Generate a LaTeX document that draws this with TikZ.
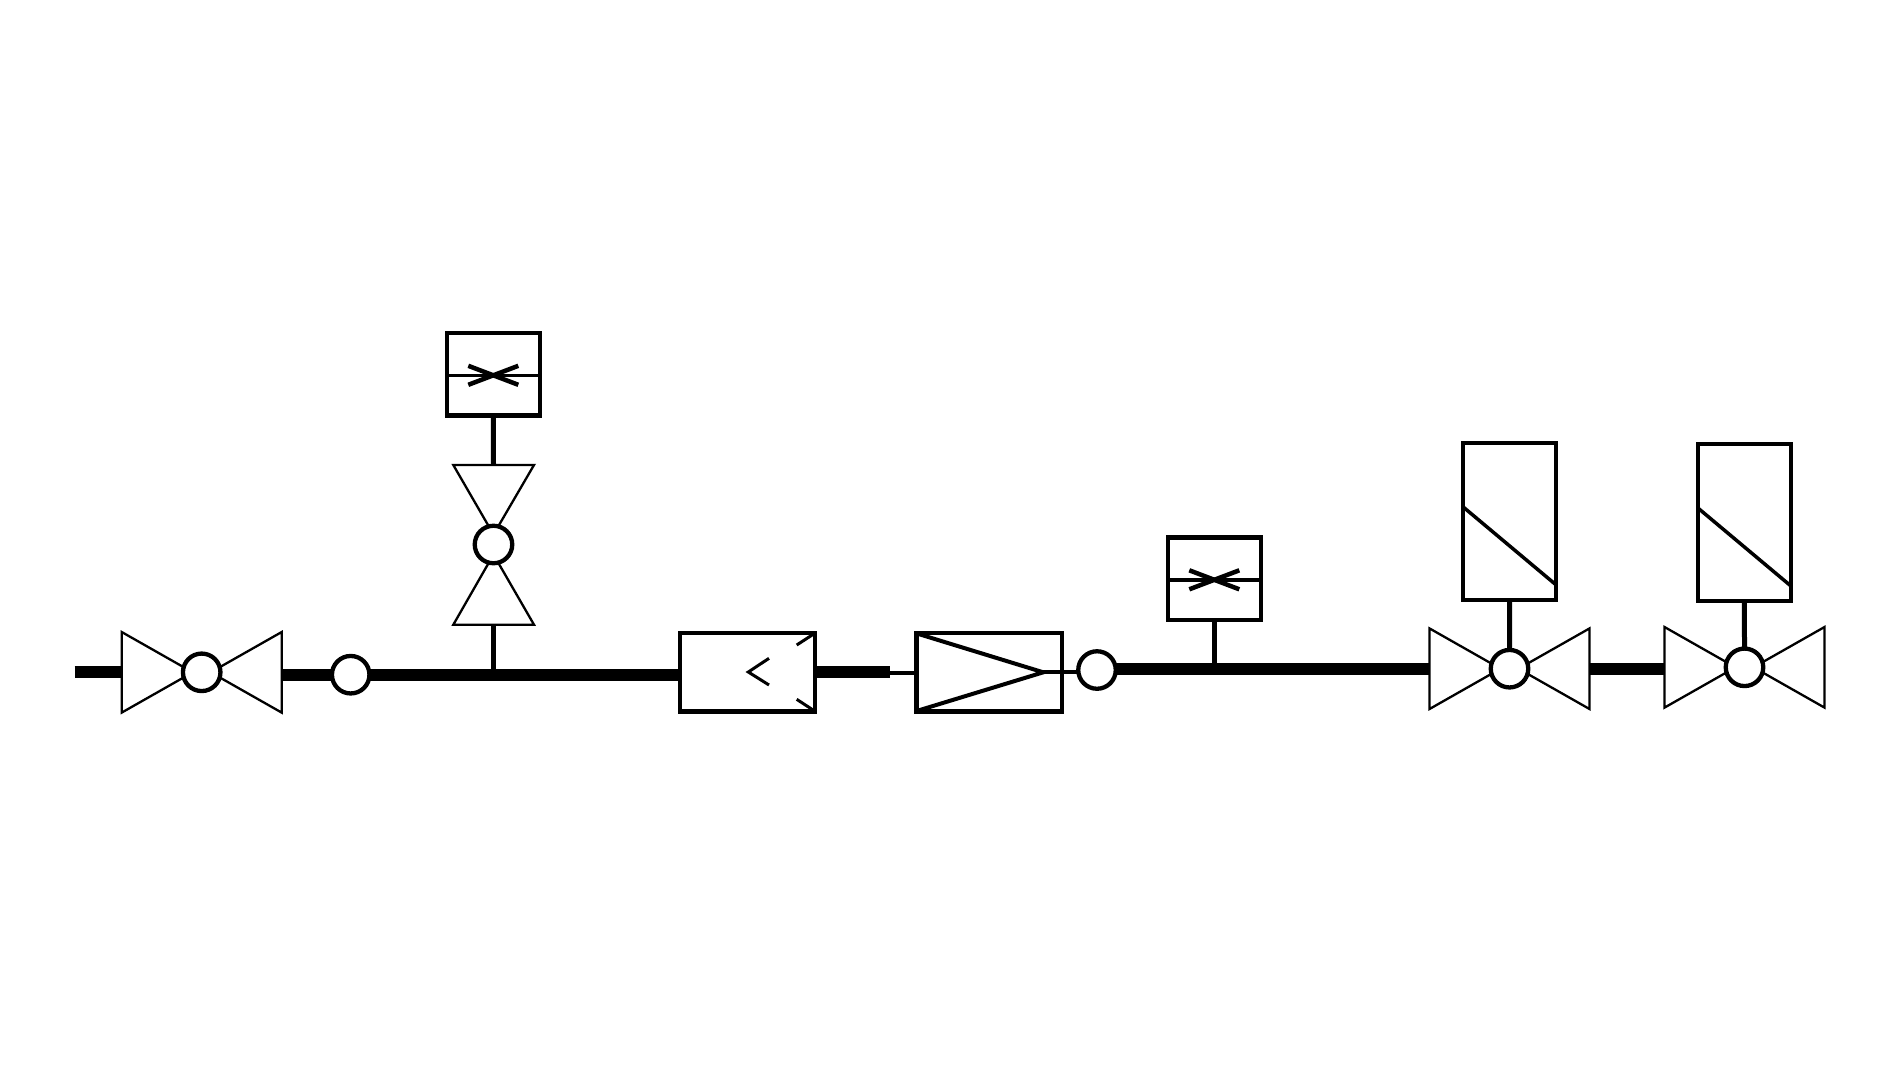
\documentclass[tikz,border=0pt]{standalone}
\tikzset{
  pipe/.style={line width=12.2pt,line cap=butt},
  feed/.style={line width=4pt,line cap=butt},
  stem/.style={line width=5pt,line cap=butt},
  thinpart/.style={draw,fill=white,line width=2.3pt,line join=miter},
  port/.style={circle,draw,fill=white,line width=4.3pt,inner sep=0pt,outer sep=0pt,minimum size=37.5pt},
  housing/.style={rectangle,draw,fill=white,line width=4.3pt,inner sep=0pt,outer sep=0pt},
  inner/.style={line width=3.5pt,line cap=butt},
  tick/.style={line width=3pt,line cap=butt,line join=miter},
}
\newcommand{\hvalve}[3]{% name, x, y
  \coordinate (#1c) at (#2,#3);
  \coordinate (#1l) at (#2-80,#3);
  \coordinate (#1r) at (#2+80,#3);
  \draw[thinpart] (#2-80,#3-40.3) -- (#2-9,#3) -- (#2-80,#3+40.3) -- cycle;
  \draw[thinpart] (#2+80,#3-40.3) -- (#2+9,#3) -- (#2+80,#3+40.3) -- cycle;
  \node[port] (#1) at (#1c) {};
}
\newcommand{\flowbox}[3]{% name, x, y-centre of the box
  \node[housing,minimum width=93pt,minimum height=82.5pt] (#1) at (#2,#3) {};
  \draw[inner] (#1.west) ++(-1,1) -- (#1.east |- 0,#3+1);
  \draw[line width=4.5pt] ([shift={(-25,-8.5)}]#1.center) -- ([shift={(25,10.5)}]#1.center);
  \draw[line width=4.5pt] ([shift={(-25,10.5)}]#1.center) -- ([shift={(25,-8.5)}]#1.center);
}
\newcommand{\actbox}[4]{% name, x, top, bottom
  \node[housing,minimum width=93pt,minimum height=#4-#3,anchor=north] (#1) at (#2,#3) {};
  \draw[inner] ([yshift=-64pt]#1.north west) -- ([yshift=-142pt]#1.north east);
}
\begin{document}
\begin{tikzpicture}[x=1pt,y=-1pt]
\useasboundingbox (0,0) rectangle (1900,1080);

\coordinate (inlet) at (74.7,672.3);
\coordinate (v1out) at (282,674.7);
\coordinate (a2) at (680,674.7);
\coordinate (a3) at (815,672);
\coordinate (a4) at (889.7,672);
\coordinate (a5) at (889.7,673.3);

% Manual valve on the inlet
\hvalve{vone}{201.7}{672.3}
\node[port] (pone) at (350.7,674.7) {};

% Vertical branch valve
\coordinate (vtc) at (493.5,544.5);
\draw[thinpart] (453.3,465) -- (493.5,534.5) -- (534,465) -- cycle;
\draw[thinpart] (453.3,624.7) -- (493.5,554.5) -- (534,624.7) -- cycle;
\node[port] (vtwo) at (vtc) {};
\coordinate (vttop) at (493.5,465);
\coordinate (vtbot) at (493.5,624.7);
\flowbox{fbone}{493.3}{374.3}

% Boxes in the line
\node[housing,minimum width=134.5pt,minimum height=78.5pt] (boxa) at (747.5,672.2) {};
\draw[tick] (769,658.3) -- (748.3,672) -- (769,685);
\draw[tick] (796.7,645) -- ([shift={(-1,1)}]boxa.north east);
\draw[tick] (796.7,699.3) -- ([shift={(-1,-1)}]boxa.south east);

\node[housing,minimum width=145.7pt,minimum height=78.5pt] (boxb) at (989.2,672.2) {};
\coordinate (tip) at (1043.3,672.3);
\draw[line width=4pt,line join=miter] ([shift={(2,1)}]boxb.north west) -- (tip) -- ([shift={(2,-1)}]boxb.south west);

\node[port] (ptwo) at (1097,670) {};
\flowbox{fbtwo}{1214.3}{578.8}

% Actuated valves
\hvalve{vthree}{1509.5}{668.7}
\actbox{actone}{1509.7}{443}{600}
\hvalve{vfour}{1744.5}{667.3}
\actbox{acttwo}{1744.4}{444}{600.7}

% Pipes and stems
\draw[pipe] (inlet) -- (vonel);
\draw[pipe] (v1out) -- (pone.west);
\draw[pipe] (pone.east) -- (a2);
\draw[pipe] (boxa.east |- a3) -- (a4);
\draw[feed] (a5) -- (boxb.west |- a5);
\draw[feed] (tip) -- (ptwo.west |- tip);
\draw[pipe] (ptwo.east |- 0,669) -- (1429.7,669);
\draw[pipe] (1589.5,668.7) -- (1664.5,668.7);
\draw[stem] (vtbot) -- (vtbot |- 0,669);
\draw[stem] (fbone.south) -- (vttop);
\draw[stem] (fbtwo.south) -- (fbtwo.south |- 0,664);
\draw[stem] (actone.south) -- (vthree.north);
\draw[stem] (acttwo.south) -- (vfour.north);
\end{tikzpicture}
\end{document}
